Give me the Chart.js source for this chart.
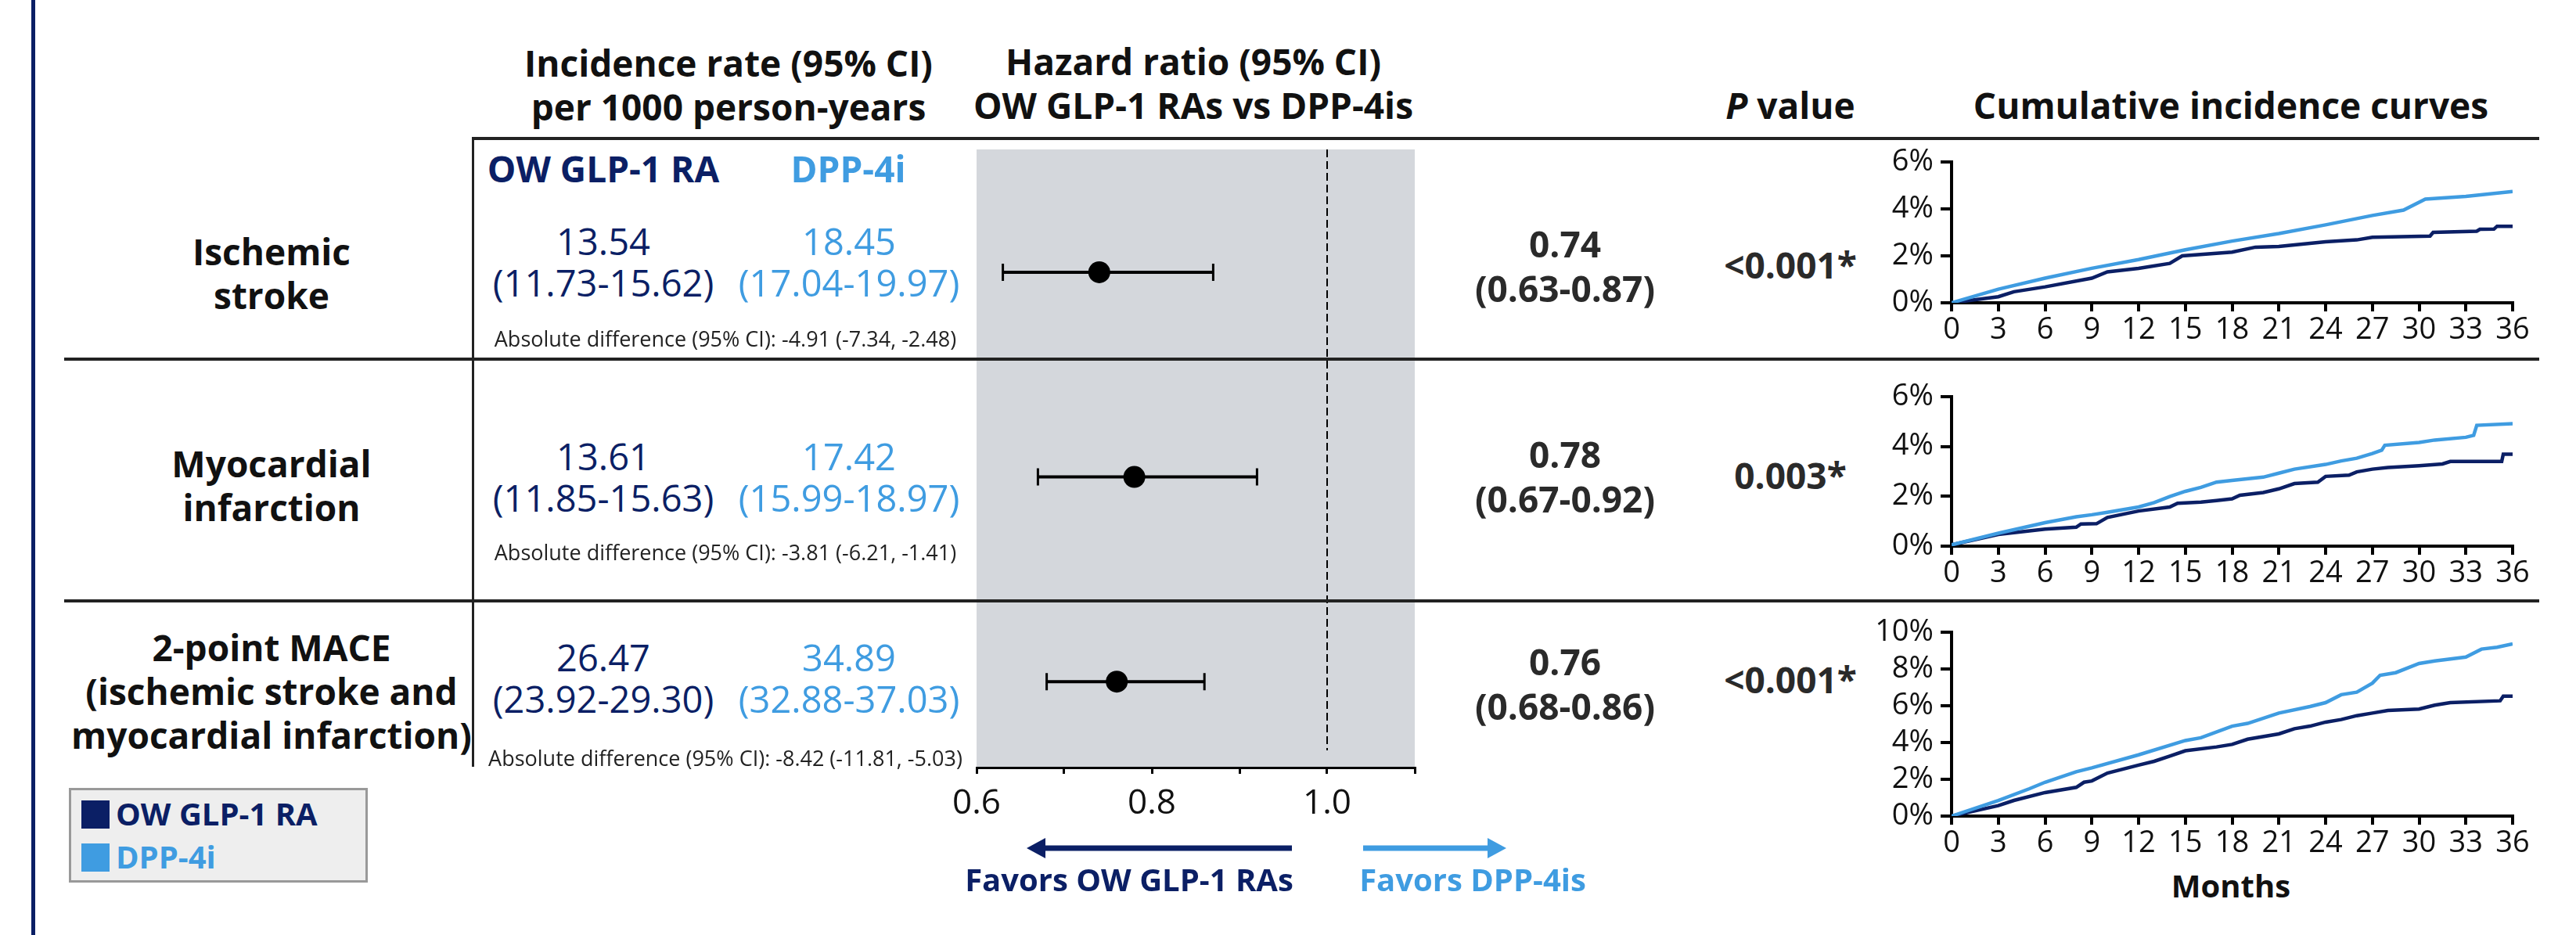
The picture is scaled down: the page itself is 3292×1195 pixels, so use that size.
<!DOCTYPE html>
<html lang="en">
<head>
<meta charset="utf-8">
<title>OW GLP-1 RAs vs DPP-4is: cardiovascular outcomes</title>
<script src="https://cdn.jsdelivr.net/npm/chart.js@4.4.1/dist/chart.umd.min.js"></script>
<style>
  html, body { margin: 0; padding: 0; background: #fff; }
  #page { position: relative; width: 3292px; height: 1195px; overflow: hidden; font-family: 'Open Sans', sans-serif; }
  .txt { position: absolute; transform: translate(-50%, -50%); white-space: nowrap; text-align: center; line-height: 1; }
  .hdr { font-weight: 700; font-size: 46px; color: #111; line-height: 56px; }
  .row-label { font-weight: 700; font-size: 46px; color: #111; line-height: 56px; }
  .grp { font-weight: 700; font-size: 46px; }
  .rate { font-size: 47px; line-height: 53px; }
  .absdiff { font-size: 27px; color: #222; }
  .hrval { font-weight: 700; font-size: 46px; color: #2a2a2a; line-height: 57px; }
  .pval { font-weight: 700; font-size: 46px; color: #2a2a2a; }
  .favors { font-weight: 700; font-size: 40px; }
  .months { font-weight: 700; font-size: 40px; color: #111; }
  .navy { color: #0b1f65; }
  .blue { color: #3f9ce1; }
  .rule { position: absolute; background: #222; z-index: 3; }
  canvas { position: absolute; }
  #legend { position: absolute; left: 88px; top: 1007px; width: 376px; height: 115px; background: #eee; border: 3px solid #999; }
  .key { position: absolute; left: 13px; width: 36px; height: 36px; }
  .key-text { position: absolute; left: 57px; font-weight: 700; font-size: 40px; line-height: 1; }
</style>
</head>
<body>
<div id="page">
  <canvas id="forest" width="750" height="900" style="left:1150px; top:177px; width:750px; height:900px;"></canvas>
  <canvas id="km-stroke" width="880" height="270" style="left:2380px; top:177px; width:880px; height:270px;"></canvas>
  <canvas id="km-mi" width="880" height="281" style="left:2380px; top:477px; width:880px; height:281px;"></canvas>
  <canvas id="km-mace" width="880" height="325" style="left:2380px; top:778px; width:880px; height:325px;"></canvas>
  <div id="legend">
    <div class="key" style="top:13px; background:#0b1f65;"></div>
    <div class="key-text navy" style="top:10px;">OW GLP-1 RA</div>
    <div class="key" style="top:68px; background:#3f9ce1;"></div>
    <div class="key-text blue" style="top:65px;">DPP-4i</div>
  </div>
  <svg style="position:absolute; left:1290px; top:1060px;" width="660" height="50">
    <line x1="40" y1="24" x2="361" y2="24" stroke="#0b1f65" stroke-width="7"></line>
    <polygon points="22,24 46,11 46,37" fill="#0b1f65"></polygon>
    <line x1="452" y1="24" x2="615" y2="24" stroke="#3f9ce1" stroke-width="7"></line>
    <polygon points="635,24 611,11 611,37" fill="#3f9ce1"></polygon>
  </svg>
</div>
<script>
'use strict';

// ********** DATA **********

let outcomeLines = [
  ['Ischemic', 'stroke'],
  ['Myocardial', 'infarction'],
  ['2-point MACE', '(ischemic stroke and', 'myocardial infarction)']
];

// incidence per 1000 person-years
let glpRate = [13.54, 13.61, 26.47];
let glpLow = [11.73, 11.85, 23.92];
let glpHigh = [15.62, 15.63, 29.30];
let dppRate = [18.45, 17.42, 34.89];
let dppLow = [17.04, 15.99, 32.88];
let dppHigh = [19.97, 18.97, 37.03];
let absDiff = [-4.91, -3.81, -8.42];
let absLow = [-7.34, -6.21, -11.81];
let absHigh = [-2.48, -1.41, -5.03];

// hazard ratios
let hr = [0.74, 0.78, 0.76];
let hrLow = [0.63, 0.67, 0.68];
let hrHigh = [0.87, 0.92, 0.86];
let hrTickLabels = ['0.6', '0.8', '1.0'];

let pValues = ['<0.001*', '0.003*', '<0.001*'];

// cumulative incidence (%), by month
let strokeDppMonths = [0, 3, 6, 9, 12, 15, 18, 21, 24, 27, 29, 30.4, 33, 36];
let strokeDpp = [0, 0.58, 1.05, 1.47, 1.84, 2.26, 2.63, 2.95, 3.32, 3.72, 3.95, 4.42, 4.53, 4.74];
let strokeGlpMonths = [0, 3, 4, 6, 9, 10, 12, 14, 14.8, 18, 19.5, 21, 23, 24, 26, 27, 30.7, 30.9, 33.7, 33.9, 34.8, 35, 36];
let strokeGlp = [0, 0.26, 0.47, 0.68, 1.05, 1.32, 1.47, 1.68, 2.0, 2.16, 2.37, 2.4, 2.53, 2.6, 2.68, 2.79, 2.84, 3.0, 3.05, 3.13, 3.14, 3.26, 3.26];

let miDppMonths = [0, 3, 6, 8, 9, 10, 12, 13, 14, 15, 16, 17, 18, 20, 21, 22, 24, 25, 26, 27, 27.6, 27.8, 30, 31, 33, 33.5, 33.7, 36];
let miDpp = [0.05, 0.52, 0.94, 1.18, 1.26, 1.36, 1.57, 1.75, 1.99, 2.2, 2.36, 2.57, 2.64, 2.77, 2.93, 3.09, 3.28, 3.42, 3.53, 3.72, 3.85, 4.05, 4.16, 4.26, 4.37, 4.45, 4.85, 4.92];
let miGlpMonths = [0, 3, 6, 8, 8.3, 9.3, 10, 12, 14, 14.5, 16, 17, 18, 18.5, 20, 21, 22, 23.5, 24, 25.5, 26, 27, 28, 30, 31.5, 32, 35.3, 35.4, 36];
let miGlp = [0.05, 0.47, 0.68, 0.76, 0.89, 0.9, 1.15, 1.41, 1.57, 1.72, 1.77, 1.83, 1.9, 2.04, 2.15, 2.3, 2.51, 2.57, 2.8, 2.85, 2.98, 3.09, 3.16, 3.23, 3.3, 3.4, 3.4, 3.69, 3.69];

let maceDppMonths = [0, 3, 5, 6, 8, 9, 12, 15, 16, 18, 19, 21, 23, 24, 25, 26, 27, 27.5, 28.5, 30, 31, 33, 34, 35, 36];
let maceDpp = [0, 0.85, 1.49, 1.84, 2.41, 2.62, 3.33, 4.11, 4.26, 4.89, 5.04, 5.6, 5.96, 6.17, 6.6, 6.74, 7.23, 7.66, 7.8, 8.3, 8.44, 8.65, 9.08, 9.18, 9.36];
let maceGlpMonths = [0, 3, 4, 6, 8, 8.5, 9, 10, 12, 13, 14, 15, 17, 18, 19, 21, 22, 23, 24, 25, 26, 27, 28, 30, 31, 32, 35.2, 35.4, 36];
let maceGlp = [0, 0.57, 0.85, 1.28, 1.56, 1.84, 1.91, 2.34, 2.77, 2.98, 3.26, 3.55, 3.76, 3.9, 4.18, 4.47, 4.75, 4.89, 5.11, 5.25, 5.46, 5.6, 5.74, 5.82, 6.03, 6.17, 6.27, 6.52, 6.52];

// ********** COLOURS + LAYOUT **********

let navy = '#0b1f65';
let blue = '#3f9ce1';

let rowLabelY = [349, 620, 883];
let rateY = [335, 610, 867];
let absY = [432, 705, 968];
let absX = [927, 927, 927];
let hrTextY = [340, 609, 874];
let pY = [338, 607, 868];

let page = document.getElementById('page');

Chart.defaults.font.family = "'Open Sans', sans-serif";
Chart.defaults.color = '#111';

// ********** HELPERS **********

function addText(html, x, y, cls) {
  let el = document.createElement('div');
  el.className = 'txt ' + cls;
  el.innerHTML = html;
  el.style.left = x + 'px';
  el.style.top = y + 'px';
  page.appendChild(el);
}

function addRule(left, top, width, height) {
  let el = document.createElement('div');
  el.className = 'rule';
  el.style.left = left + 'px';
  el.style.top = top + 'px';
  el.style.width = width + 'px';
  el.style.height = height + 'px';
  page.appendChild(el);
}

function toPoints(months, values) {
  let pts = [];
  for (let i = 0; i < months.length; i++) {
    pts.push({ x: months[i], y: values[i] });
  }
  return pts;
}

function ci(lo, hi) {
  return `(${lo.toFixed(2)}-${hi.toFixed(2)})`;
}

// ********** TABLE TEXT **********

addText('Incidence rate (95% CI)<br>per 1000 person-years', 931, 108, 'hdr');
addText('Hazard ratio (95% CI)<br>OW GLP-1 RAs vs DPP-4is', 1525, 106, 'hdr');
addText('<i>P</i> value', 2288, 134, 'hdr');
addText('Cumulative incidence curves', 2851, 134, 'hdr');

addText('OW GLP-1 RA', 771, 215, 'grp navy');
addText('DPP-4i', 1084, 215, 'grp blue');

for (let i = 0; i < outcomeLines.length; i++) {
  addText(outcomeLines[i].join('<br>'), 347, rowLabelY[i], 'row-label');
  addText(`${glpRate[i].toFixed(2)}<br>${ci(glpLow[i], glpHigh[i])}`, 771, rateY[i], 'rate navy');
  addText(`${dppRate[i].toFixed(2)}<br>${ci(dppLow[i], dppHigh[i])}`, 1085, rateY[i], 'rate blue');
  addText(`Absolute difference (95% CI): ${absDiff[i].toFixed(2)} (${absLow[i].toFixed(2)}, ${absHigh[i].toFixed(2)})`, absX[i], absY[i], 'absdiff');
  addText(`${hr[i].toFixed(2)}<br>${ci(hrLow[i], hrHigh[i])}`, 2000, hrTextY[i], 'hrval');
  addText(pValues[i], 2288, pY[i], 'pval');
}

addText('Favors OW GLP-1 RAs', 1443, 1124, 'favors navy');
addText('Favors DPP-4is', 1882, 1124, 'favors blue');
addText('Months', 2851, 1132, 'months');

// table rules + page bar
addRule(604, 175, 2641, 4);
addRule(82, 457, 3163, 4);
addRule(82, 766, 3163, 4);
addRule(603, 175, 3, 805);
let bar = document.createElement('div');
bar.style.cssText = 'position:absolute; left:40px; top:0; width:5px; height:1195px; background:' + navy + ';';
page.appendChild(bar);

// ********** FOREST PLOT **********

let forestPlugin = {
  id: 'forestBits',
  beforeDraw(chart) {
    let { ctx, chartArea, scales } = chart;
    ctx.save();
    ctx.fillStyle = '#d4d7dc';
    ctx.fillRect(chartArea.left, chartArea.top, chartArea.right - chartArea.left, chartArea.bottom - chartArea.top);
    let x1 = scales.x.getPixelForValue(1.0);
    ctx.strokeStyle = '#000';
    ctx.lineWidth = 2;
    ctx.setLineDash([10, 5]);
    ctx.beginPath();
    ctx.moveTo(x1, chartArea.top);
    ctx.lineTo(x1, chartArea.bottom - 22);
    ctx.stroke();
    ctx.restore();
  },
  beforeDatasetsDraw(chart) {
    let { ctx, scales } = chart;
    ctx.save();
    ctx.strokeStyle = '#000';
    for (let i = 0; i < hr.length; i++) {
      let y = scales.y.getPixelForValue(i + 1);
      let xl = scales.x.getPixelForValue(hrLow[i]);
      let xh = scales.x.getPixelForValue(hrHigh[i]);
      ctx.lineWidth = 4;
      ctx.beginPath();
      ctx.moveTo(xl, y);
      ctx.lineTo(xh, y);
      ctx.stroke();
      ctx.lineWidth = 3;
      ctx.beginPath();
      ctx.moveTo(xl, y - 11);
      ctx.lineTo(xl, y + 11);
      ctx.moveTo(xh, y - 11);
      ctx.lineTo(xh, y + 11);
      ctx.stroke();
    }
    ctx.restore();
  }
};

new Chart(document.getElementById('forest'), {
  type: 'scatter',
  data: {
    datasets: [{
      data: hr.map((v, i) => ({ x: v, y: i + 1 })),
      pointRadius: 14,
      pointBackgroundColor: '#000',
      pointBorderWidth: 0
    }]
  },
  options: {
    responsive: false,
    animation: false,
    devicePixelRatio: 1,
    layout: { padding: { left: 98, right: 92, top: 0, bottom: 0 } },
    plugins: { legend: { display: false }, tooltip: { enabled: false } },
    scales: {
      x: {
        type: 'linear',
        min: 0.6,
        max: 1.1,
        afterFit(s) { s.height = 96; s.paddingLeft = 0; s.paddingRight = 0; },
        ticks: {
          stepSize: 0.1,
          autoSkip: false,
          maxRotation: 0,
          padding: 12,
          color: '#111',
          font: { size: 44 },
          callback(v) {
            let s = Number(v).toFixed(1);
            return hrTickLabels.includes(s) ? s : '';
          }
        },
        grid: { drawOnChartArea: false, drawTicks: true, tickLength: 8, color: '#000', lineWidth: 3 },
        border: { display: true, color: '#000', width: 3 }
      },
      y: { type: 'linear', display: false, reverse: true, min: 0.4, max: 3.42 }
    }
  },
  plugins: [forestPlugin]
});

// ********** CUMULATIVE INCIDENCE CURVES **********

function kmChart(id, glpPts, dppPts, yMax) {
  new Chart(document.getElementById(id), {
    type: 'line',
    data: {
      datasets: [
        { label: 'DPP-4i', data: dppPts, borderColor: blue, borderWidth: 4.5, pointRadius: 0, tension: 0 },
        { label: 'OW GLP-1 RA', data: glpPts, borderColor: navy, borderWidth: 4.5, pointRadius: 0, tension: 0 }
      ]
    },
    options: {
      responsive: false,
      animation: false,
      devicePixelRatio: 1,
      layout: { padding: { top: 30, right: 49, left: 0, bottom: 0 } },
      plugins: { legend: { display: false }, tooltip: { enabled: false } },
      scales: {
        x: {
          type: 'linear',
          min: 0,
          max: 36,
          afterFit(s) { s.height = 60; s.paddingLeft = 0; s.paddingRight = 0; },
          ticks: { stepSize: 3, autoSkip: false, maxRotation: 0, padding: 1, color: '#111', font: { size: 38 } },
          grid: { drawOnChartArea: false, tickLength: 11, color: '#000', lineWidth: 4 },
          border: { color: '#000', width: 4 }
        },
        y: {
          type: 'linear',
          min: 0,
          max: yMax,
          afterFit(s) { s.width = 114; s.paddingTop = 0; s.paddingBottom = 0; },
          ticks: { stepSize: 2, autoSkip: false, padding: 9, color: '#111', font: { size: 38 }, callback: v => v + '%' },
          grid: { drawOnChartArea: false, tickLength: 14, color: '#000', lineWidth: 4 },
          border: { color: '#000', width: 4 }
        }
      }
    }
  });
}

kmChart('km-stroke', toPoints(strokeGlpMonths, strokeGlp), toPoints(strokeDppMonths, strokeDpp), 6);
kmChart('km-mi', toPoints(miGlpMonths, miGlp), toPoints(miDppMonths, miDpp), 6);
kmChart('km-mace', toPoints(maceGlpMonths, maceGlp), toPoints(maceDppMonths, maceDpp), 10);
</script>
</body>
</html>
